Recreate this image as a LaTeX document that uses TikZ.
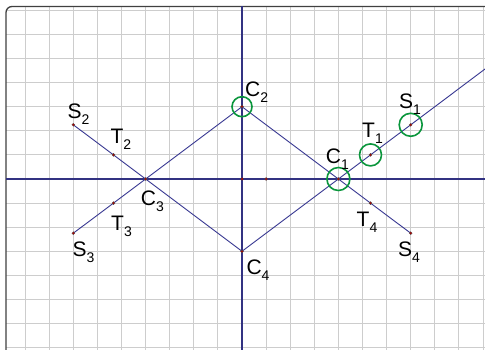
\documentclass[tikz,border=0pt]{standalone}
\usepackage{fontspec}
\setmainfont{Liberation Sans}
\definecolor{lineblue}{RGB}{55,55,145}
\definecolor{axisblue}{RGB}{50,50,130}
\definecolor{circgreen}{RGB}{10,150,60}
\definecolor{dotred}{RGB}{170,0,0}
\definecolor{gridgray}{RGB}{205,205,205}
\newcommand{\lbl}[2]{#1{\fontsize{14}{14}\selectfont\raisebox{-6pt}{#2}}}
\tikzset{
  gridline/.style={draw=gridgray, line width=1pt},
  axisline/.style={draw=axisblue, line width=1.8pt},
  segline/.style={draw=lineblue, line width=0.9pt},
  mark circle/.style={draw=circgreen, line width=1.6pt},
  ptlabel/.style={anchor=base west, inner sep=0pt, font=\fontsize{21}{21}\selectfont},
}
\begin{document}
\begin{tikzpicture}[x=1pt, y=-1pt]
\useasboundingbox (0,0) rectangle (485,350);
\fill[white] (0,0) rectangle (485,350);
% grid
\foreach \k in {-9,...,10} {
  \draw[gridline] ({242+\k*24.1},6.5) -- ({242+\k*24.1},351);
}
\foreach \k in {-7,...,7} {
  \draw[gridline] (6,{179+\k*24.1}) -- (486,{179+\k*24.1});
}
% frame
\draw[line width=1.3pt, black!75, rounded corners=6pt] (6,352) -- (6,6.5) -- (487,6.5);
% axes
\draw[axisline] (6,179) -- (486,179);
\draw[axisline] (242,6.5) -- (242,351);
% points
\coordinate (O) at (242,179);
\coordinate (P) at (266.1,179);
\coordinate (C1) at (338.4,179);
\coordinate (C2) at (242,106.7);
\coordinate (C3) at (145.6,179);
\coordinate (C4) at (242,251.3);
\coordinate (S1) at (410.7,124.8);
\coordinate (T1) at (370.5,154.9);
\coordinate (S2) at (73.3,124.8);
\coordinate (T2) at (113.5,154.9);
\coordinate (S3) at (73.3,233.2);
\coordinate (T3) at (113.5,203.1);
\coordinate (S4) at (410.7,233.2);
\coordinate (T4) at (370.5,203.1);
\coordinate (E) at (486,68.3);
% lines
\draw[segline] (S2) -- (T2) -- (C3) -- (C4);
\draw[segline] (S3) -- (T3) -- (C3) -- (C2);
\draw[segline] (C2) -- (C1) -- (T4) -- (S4);
\draw[segline] (C4) -- (C1) -- (T1) -- (S1) -- (E);
% circles
\draw[mark circle] (C2) circle[radius=10pt];
\draw[mark circle] (C1) circle[radius=11.5pt];
\draw[mark circle] (T1) circle[radius=11pt];
\draw[mark circle] (S1) circle[radius=11.5pt];
% dots
\foreach \p in {O,P,C1,C2,C3,C4,S1,T1,S2,T2,S3,T3,S4,T4} {
  \fill[dotred, draw=black!70, line width=0.3pt] (\p) circle[radius=1.5pt];
}
% labels
\node[ptlabel] (lS1) at (399,108.3) {\lbl{S}{1}};
\node[ptlabel] (lT1) at (362,137.3) {\lbl{T}{1}};
\node[ptlabel] (lC1) at (325.7,163.3) {\lbl{C}{1}};
\node[ptlabel] (lT4) at (356.5,226.7) {\lbl{T}{4}};
\node[ptlabel] (lS4) at (398,256.7) {\lbl{S}{4}};
\node[ptlabel] (lS2) at (67.3,118.3) {\lbl{S}{2}};
\node[ptlabel] (lT2) at (110.3,143.3) {\lbl{T}{2}};
\node[ptlabel] (lC3) at (140.7,205) {\lbl{C}{3}};
\node[ptlabel] (lT3) at (111,230) {\lbl{T}{3}};
\node[ptlabel] (lS3) at (72.3,256.7) {\lbl{S}{3}};
\node[ptlabel] (lC2) at (245,96.7) {\lbl{C}{2}};
\node[ptlabel] (lC4) at (246.3,274.3) {\lbl{C}{4}};
\end{tikzpicture}
\end{document}
